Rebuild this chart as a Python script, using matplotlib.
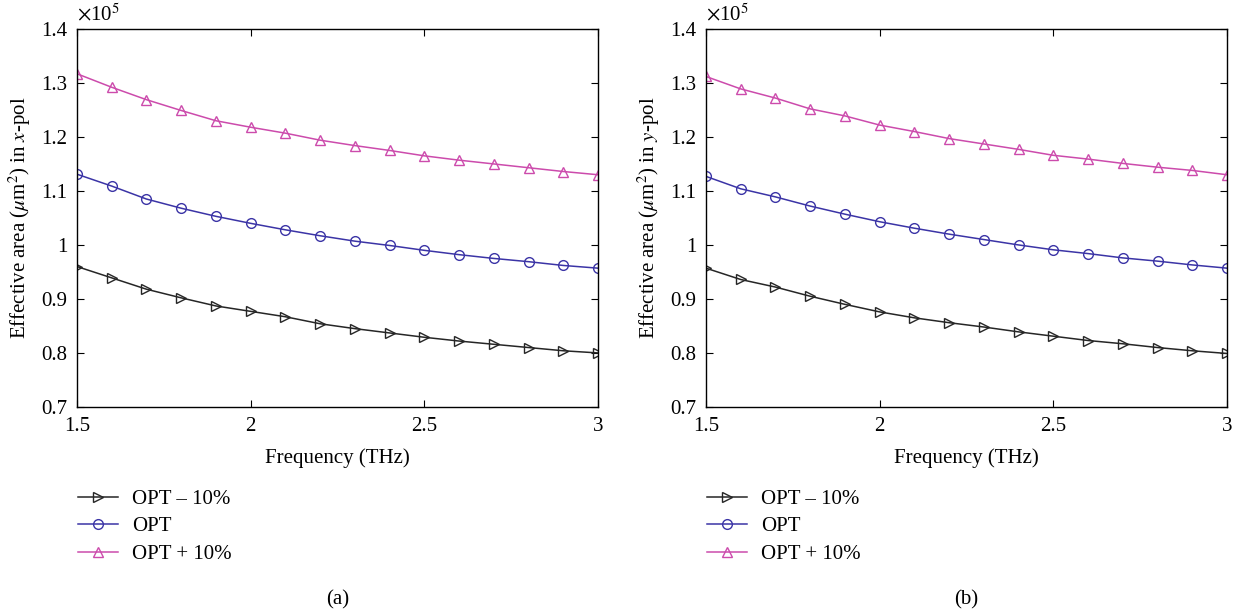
import numpy as np
import matplotlib.pyplot as plt
from matplotlib.ticker import FuncFormatter

plt.rcParams['font.family'] = ['Liberation Serif', 'DejaVu Serif']
plt.rcParams['mathtext.fontset'] = 'stix'

# frequency in THz
freq = [1.5, 1.6, 1.7, 1.8, 1.9, 2.0, 2.1, 2.2, 2.3, 2.4, 2.5, 2.6, 2.7, 2.8, 2.9, 3.0]

# effective area, units of 1e5 um^2
xpol_minus = [0.960, 0.939, 0.918, 0.902, 0.887, 0.877, 0.867, 0.854, 0.845, 0.837,
              0.829, 0.822, 0.816, 0.810, 0.804, 0.800]
xpol_opt = [1.131, 1.109, 1.085, 1.068, 1.053, 1.040, 1.028, 1.017, 1.007, 0.999,
            0.990, 0.982, 0.975, 0.969, 0.962, 0.957]
xpol_plus = [1.317, 1.292, 1.269, 1.249, 1.230, 1.218, 1.207, 1.194, 1.184, 1.175,
             1.165, 1.157, 1.150, 1.143, 1.136, 1.130]

ypol_minus = [0.957, 0.936, 0.922, 0.905, 0.890, 0.876, 0.865, 0.856, 0.848, 0.839,
              0.831, 0.823, 0.817, 0.810, 0.804, 0.799]
ypol_opt = [1.127, 1.104, 1.089, 1.072, 1.057, 1.043, 1.031, 1.020, 1.010, 1.000,
            0.991, 0.984, 0.976, 0.970, 0.963, 0.957]
ypol_plus = [1.312, 1.289, 1.272, 1.252, 1.239, 1.222, 1.210, 1.197, 1.187, 1.177,
             1.166, 1.159, 1.151, 1.144, 1.138, 1.130]

labels = ['OPT \u2013 10%', 'OPT', 'OPT + 10%']
colors = ['#262626', '#3b34a6', '#cc4bac']
markers = ['>', 'o', '^']

panels = [
    ('x', [xpol_minus, xpol_opt, xpol_plus], '(a)'),
    ('y', [ypol_minus, ypol_opt, ypol_plus], '(b)'),
]

fig = plt.figure(figsize=(12.42, 6.11), dpi=100)
lefts = [0.062, 0.5684]
fs = 15

for left, (pol, series, cap) in zip(lefts, panels):
    ax = fig.add_axes([left, 0.334, 0.4195, 0.6186])
    for vals, lab, c, m in zip(series, labels, colors, markers):
        ax.plot(freq, vals, color=c, marker=m, markersize=7, markerfacecolor='none',
                markeredgewidth=1.0, linewidth=1.1, label=lab)
    ax.set_xlim(1.5, 3)
    ax.set_ylim(0.7, 1.4)
    ax.set_xticks([1.5, 2, 2.5, 3])
    ax.set_yticks(np.arange(0.7, 1.41, 0.1))
    fmt = FuncFormatter(lambda v, p: ('%.1f' % v).rstrip('0').rstrip('.'))
    ax.xaxis.set_major_formatter(fmt)
    ax.yaxis.set_major_formatter(fmt)
    ax.tick_params(direction='in', top=True, right=True, labelsize=fs, length=5, pad=7)
    for s in ax.spines.values():
        s.set_linewidth(1.0)
    ax.set_xlabel('Frequency (THz)', fontsize=fs, labelpad=9)
    ax.set_ylabel('Effective area ($\\mu$m$^2$) in $%s$-pol' % pol, fontsize=fs, labelpad=6)
    ax.text(0.0, 1.01, '$\\times$10$^5$', transform=ax.transAxes, fontsize=fs,
            ha='left', va='bottom')
    ax.legend(loc='upper left', bbox_to_anchor=(0.002, -0.218), frameon=False, fontsize=fs,
              handlelength=1.9, handletextpad=0.7, labelspacing=0.38, borderaxespad=0,
              borderpad=0)
    ax.text(0.5, -0.51, cap, transform=ax.transAxes, fontsize=fs, ha='center', va='center')

fig.savefig('out.png', dpi=100)
